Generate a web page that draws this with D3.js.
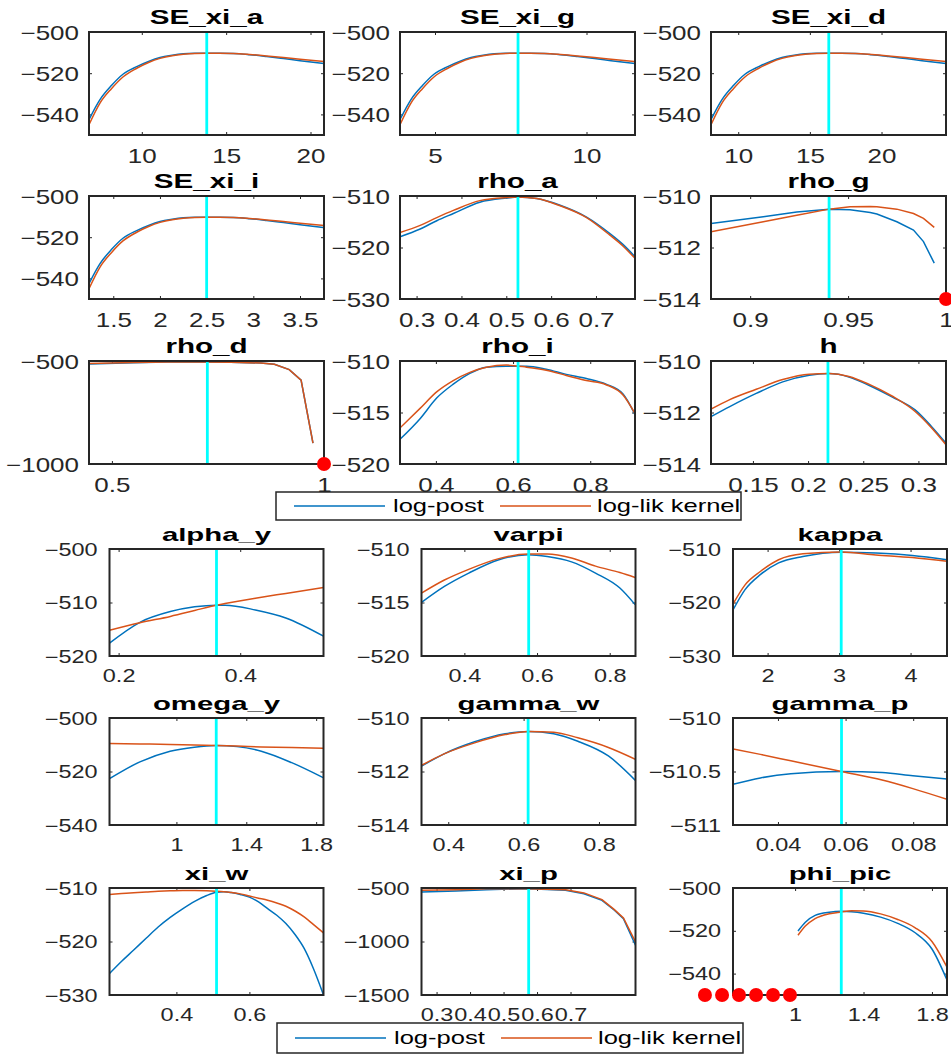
<!DOCTYPE html>
<html><head><meta charset="utf-8">
<script src="https://cdn.jsdelivr.net/npm/d3@7"></script>
<style>
body{margin:0;background:#fff}
svg{display:block}
text{font-family:"Liberation Sans",Arial,Helvetica,sans-serif}
</style></head><body>
<svg id="chart" width="951" height="1054"></svg>
<script>
const titles = ["SE_xi_a","SE_xi_g","SE_xi_d","SE_xi_i","rho_a","rho_g","rho_d","rho_i","h",
                "alpha_y","varpi","kappa","omega_y","gamma_w","gamma_p","xi_w","xi_p","phi_pic"];
const legendLabels = ["log-post","log-lik kernel"];

const seX_a = [6.87,7.52,8.2,8.9,9.7,10.4,11.08,11.8,12.46,13.15,13.85,14.6,15.43,16.4,17.4,18.4,19.38,20.8];
const seX_g = [3.845,4.207,4.586,4.975,5.421,5.81,6.189,6.589,6.957,7.341,7.731,8.148,8.61,9.15,9.707,10.264,10.81,11.6];
const seX_d = [8.1,8.866,9.666,10.489,11.432,12.256,13.056,13.904,14.681,15.493,16.318,17.2,18.178,19.319,20.497,21.674,22.829,24.5];
const seX_i = [1.24,1.358,1.48,1.607,1.751,1.878,2.001,2.131,2.25,2.375,2.501,2.637,2.787,2.962,3.143,3.323,3.501,3.757];
const sePost = [-542.5,-532.8,-526,-520.4,-516.8,-514.3,-512.4,-511.3,-510.6,-510.35,-510.3,-510.3,-510.4,-511.0,-511.9,-512.9,-513.9,-515.3];
const seLik  = [-545,-534.5,-527.5,-521.7,-517.6,-514.8,-512.8,-511.5,-510.8,-510.4,-510.3,-510.3,-510.4,-510.9,-511.6,-512.4,-513.2,-514.3];

const xValues = [
  seX_a, seX_g, seX_d, seX_i,
  [0.263,0.308,0.345,0.382,0.441,0.501,0.526,0.568,0.62,0.679,0.731,0.76,0.787],
  [0.88,0.9067,0.9238,0.9403,0.951,0.9613,0.9647,0.9749,0.9834,0.9885,0.994],
  [0.446,0.551,0.63,0.709,0.78,0.851,0.883,0.918,0.946,0.974],
  [0.307,0.359,0.402,0.445,0.488,0.531,0.583,0.635,0.686,0.738,0.79,0.841,0.885,0.916],
  [0.112,0.129,0.153,0.177,0.201,0.219,0.237,0.255,0.276,0.297,0.312,0.325],
  [0.185,0.235,0.285,0.325,0.361,0.375,0.425,0.475,0.537],
  [0.283,0.345,0.412,0.495,0.575,0.628,0.695,0.761,0.828,0.87],
  [1.516,1.685,1.898,2.154,2.494,3.03,3.515,4.025,4.51],
  [0.617,0.791,0.964,1.103,1.228,1.347,1.486,1.66,1.84],
  [0.329,0.389,0.47,0.551,0.613,0.68,0.744,0.825,0.898],
  [0.0267,0.0348,0.0438,0.0588,0.0708,0.0799,0.09],
  [0.2167,0.25,0.283,0.317,0.35,0.383,0.417,0.45,0.483,0.51,0.53,0.55,0.575,0.6,0.625,0.65,0.675,0.7,0.725,0.75,0.775,0.803],
  [0.255,0.3586,0.449,0.575,0.685,0.74,0.794,0.831,0.858,0.894],
  [1.017,1.06,1.117,1.2,1.27,1.33,1.4,1.5,1.6,1.7,1.8,1.888]
];
const logPost = [
  sePost, sePost, sePost, sePost,
  [-517.9,-516.4,-514.8,-513.4,-511.2,-510.4,-510.2,-510.5,-511.8,-514.1,-517.3,-519.4,-521.8],
  [-511.07,-510.81,-510.62,-510.51,-510.53,-510.64,-510.7,-511.0,-511.32,-511.77,-512.61],
  [-515,-508,-505,-505,-506,-510,-516,-542,-593,-899],
  [-517.6,-515.6,-513.6,-512.25,-511.2,-510.6,-510.5,-510.5,-510.8,-511.3,-511.7,-512.25,-513.2,-515.2],
  [-512.16,-511.77,-511.26,-510.81,-510.55,-510.49,-510.62,-510.94,-511.39,-511.9,-512.55,-513.19],
  [-517.6,-513.7,-511.7,-510.8,-510.5,-510.5,-511.4,-512.9,-516.3],
  [-514.97,-513.5,-512.25,-511.0,-510.53,-510.7,-511.2,-512.25,-513.65,-515.2],
  [-521.4,-517.6,-514.8,-512.6,-511.4,-510.6,-510.75,-511.2,-512],
  [-522.7,-516.4,-512.4,-510.9,-510.3,-510.7,-512.4,-516.7,-522.3],
  [-511.8,-511.34,-510.89,-510.59,-510.5,-510.59,-510.87,-511.42,-512.35],
  [-510.62,-510.56,-510.52,-510.5,-510.51,-510.54,-510.57],
  [-526,-523.7,-521.6,-519.4,-517.3,-515.5,-513.9,-512.5,-511.4,-510.8,-510.7,-510.85,-511.2,-511.7,-512.6,-513.85,-515.1,-516.65,-518.7,-521.3,-525,-530],
  [-537,-528,-515.5,-506,-522,-553,-615,-708,-786,-1034],
  [-520.1,-516,-512.8,-511.3,-510.9,-511.1,-511.8,-513.6,-516.5,-520.8,-528.5,-543]
];
const logLik = [
  seLik, seLik, seLik, seLik,
  [-517.1,-515.7,-514.2,-512.8,-510.9,-510.3,-510.2,-510.5,-511.9,-514.2,-517.6,-519.7,-522.1],
  [-511.39,-511.0,-510.75,-510.51,-510.42,-510.41,-510.42,-510.51,-510.68,-510.87,-511.22],
  [-512,-507,-505,-505,-506,-510,-516,-542,-593,-899],
  [-516.5,-514.6,-513.0,-511.9,-511.1,-510.6,-510.4,-510.6,-510.9,-511.4,-511.9,-512.3,-513.3,-515.1],
  [-511.87,-511.5,-511.1,-510.72,-510.51,-510.49,-510.6,-510.9,-511.36,-511.96,-512.6,-513.25],
  [-515.2,-513.8,-512.6,-511.5,-510.5,-510.2,-509.2,-508.3,-507.2],
  [-514.1,-512.9,-511.9,-510.9,-510.47,-510.47,-510.84,-511.6,-512.2,-512.66],
  [-520.3,-516.7,-514.2,-512,-510.9,-510.56,-511.1,-511.6,-512.3],
  [-509.5,-509.7,-509.9,-510.1,-510.3,-510.5,-510.8,-511.0,-511.3],
  [-511.77,-511.34,-510.93,-510.62,-510.5,-510.53,-510.74,-511.1,-511.55],
  [-510.29,-510.34,-510.4,-510.5,-510.58,-510.66,-510.76],
  [-511.2,-511.05,-510.9,-510.75,-510.6,-510.5,-510.45,-510.45,-510.5,-510.6,-510.7,-510.85,-511.1,-511.5,-511.9,-512.3,-512.8,-513.4,-514.3,-515.4,-516.8,-518.4],
  [-522,-515.5,-506,-506,-515.5,-546,-609,-702,-780,-1003],
  [-522.1,-517.8,-514.3,-512.0,-511.2,-510.6,-510.7,-512.1,-514.7,-518.5,-525,-537]
];
const modeValues = [13.85,7.74,16.32,2.5,0.526,0.9403,0.725,0.613,0.218,
                    0.361,0.577,3.03,1.228,0.612,0.0588,0.51,0.575,1.27];
const xDomains = [[6.87,20.8],[3.845,11.6],[8.1,24.5],[1.24,3.757],[0.263,0.787],[0.88,1.0],[0.446,1.0],[0.307,0.916],[0.112,0.325],
                  [0.185,0.537],[0.282,0.871],[1.516,4.51],[0.617,1.842],[0.329,0.897],[0.0267,0.09],[0.2167,0.803],[0.255,0.894],[0.637,1.888]];
const yDomains = [[-550,-500],[-550,-500],[-550,-500],[-550,-500],[-530,-510],[-514,-510],[-1000,-500],[-520,-510],[-514,-510],
                  [-520,-500],[-520,-510],[-530,-510],[-540,-500],[-514,-510],[-511,-510],[-530,-510],[-1500,-500],[-550,-500]];
const xTickValues = [[10,15,20],[5,10],[10,15,20],[1.5,2,2.5,3,3.5],[0.3,0.4,0.5,0.6,0.7],[0.9,0.95,1],[0.5,1],[0.4,0.6,0.8],[0.15,0.2,0.25,0.3],
                     [0.2,0.4],[0.4,0.6,0.8],[2,3,4],[1,1.4,1.8],[0.4,0.6,0.8],[0.04,0.06,0.08],[0.4,0.6],[0.3,0.4,0.5,0.6,0.7],[1,1.4,1.8]];
const yTickValues = [[-540,-520,-500],[-540,-520,-500],[-540,-520,-500],[-540,-520,-500],[-530,-520,-510],[-514,-512,-510],[-1000,-500],[-520,-515,-510],[-514,-512,-510],
                     [-520,-510,-500],[-520,-515,-510],[-530,-520,-510],[-540,-520,-500],[-514,-512,-510],[-511,-510.5,-510],[-530,-520,-510],[-1500,-1000,-500],[-540,-520,-500]];
// grid points where the posterior was not finite (plotted at the bottom)
const infX = [[],[],[],[],[],[1.0],[1.0],[],[],[],[],[],[],[],[],[],[],[0.473,0.573,0.672,0.772,0.871,0.97]];
const straightPanels = ["rho_g","rho_d","xi_p"];

const svg = d3.select("#chart");
const defs = svg.append("defs");
const C_BLUE = "#0072BD", C_ORANGE = "#D95319", C_AX = "#262626";

const sections = [
  {cols:[89,400,711], w:235, rows:[32,196,361], h:103, tickF:20, tickSx:1.3, yPad:10, xBase:28, titleF:20, titleSx:1.48},
  {cols:[109.5,421.5,733], w:214, rows:[549,718,888], h:107, tickF:17.5, tickSx:1.34, yPad:12, xBase:26, titleF:18, titleSx:1.63}
];
const fmt = d => String(d).replace("-", "\u2212");

titles.forEach((title, i) => {
  const sec = sections[i < 9 ? 0 : 1];
  const k = i % 9;
  const x0 = sec.cols[k % 3], y0 = sec.rows[Math.floor(k / 3)];
  const w = sec.w, h = sec.h;
  const x = d3.scaleLinear().domain(xDomains[i]).range([0, w]);
  const y = d3.scaleLinear().domain(yDomains[i]).range([h, 0]);
  const g = svg.append("g").attr("transform", `translate(${x0},${y0})`);
  const cid = "clip" + i;
  defs.append("clipPath").attr("id", cid).append("rect").attr("width", w).attr("height", h);

  const styleAxis = sel => {
    sel.select(".domain").remove();
    sel.selectAll(".tick line").attr("stroke", C_AX).attr("stroke-width", 1);
  };
  const ax = g.append("g").attr("transform", `translate(0,${h})`)
    .call(d3.axisBottom(x).tickValues(xTickValues[i]).tickSize(-3).tickFormat(fmt));
  styleAxis(ax);
  ax.selectAll("text").attr("fill", C_AX).attr("font-size", sec.tickF).attr("y", sec.xBase).attr("dy", 0)
    .attr("transform", `scale(${sec.tickSx},1)`).attr("font-family", null);
  const ay = g.append("g")
    .call(d3.axisLeft(y).tickValues(yTickValues[i]).tickSize(-3).tickFormat(fmt));
  styleAxis(ay);
  ay.selectAll("text").attr("fill", C_AX).attr("font-size", sec.tickF).attr("x", -sec.yPad / sec.tickSx)
    .attr("dy", "0.35em").attr("transform", `scale(${sec.tickSx},1)`).attr("font-family", null);
  const at = g.append("g").call(d3.axisTop(x).tickValues(xTickValues[i]).tickSize(-3).tickFormat(""));
  styleAxis(at);
  const ar = g.append("g").attr("transform", `translate(${w},0)`)
    .call(d3.axisRight(y).tickValues(yTickValues[i]).tickSize(-3).tickFormat(""));
  styleAxis(ar);

  const pts = (ys) => xValues[i].map((xv, j) => [xv, ys[j]]);
  const line = d3.line().x(d => x(d[0])).y(d => y(d[1]))
    .curve(straightPanels.includes(title) ? d3.curveLinear : d3.curveMonotoneX);
  const plot = g.append("g").attr("clip-path", `url(#${cid})`);
  plot.append("path").attr("d", line(pts(logPost[i]))).attr("fill", "none")
    .attr("stroke", C_BLUE).attr("stroke-width", 1.5);
  plot.append("path").attr("d", line(pts(logLik[i]))).attr("fill", "none")
    .attr("stroke", C_ORANGE).attr("stroke-width", 1.5);
  plot.append("line").attr("x1", x(modeValues[i])).attr("x2", x(modeValues[i]))
    .attr("y1", 0).attr("y2", h).attr("stroke", "#00FFFF").attr("stroke-width", 2.8);

  g.append("rect").attr("width", w).attr("height", h).attr("fill", "none")
    .attr("stroke", C_AX).attr("stroke-width", 2);

  g.append("g").selectAll("circle").data(infX[i]).join("circle")
    .attr("cx", d => x(d)).attr("cy", y(yDomains[i][0])).attr("r", 7).attr("fill", "#FF0000");

  g.append("text").attr("transform", `translate(${w / 2},-8) scale(${sec.titleSx},1)`)
    .attr("text-anchor", "middle").attr("font-weight", "bold").attr("font-size", sec.titleF)
    .attr("fill", "#000").text(title);
});

[{x:276, y:492, w:465, h:28}, {x:277, y:1023, w:466, h:30}].forEach(L => {
  const lg = svg.append("g").attr("transform", `translate(${L.x},${L.y})`);
  lg.append("rect").attr("width", L.w).attr("height", L.h).attr("fill", "#fff")
    .attr("stroke", C_AX).attr("stroke-width", 1.5);
  const cy = L.h / 2;
  const items = [{c:C_BLUE, lx:18, tx:117}, {c:C_ORANGE, lx:224, tx:321}];
  items.forEach((it, j) => {
    lg.append("line").attr("x1", it.lx).attr("x2", it.lx + 91).attr("y1", cy).attr("y2", cy)
      .attr("stroke", it.c).attr("stroke-width", 1.5);
    lg.append("text").attr("transform", `translate(${it.tx},${cy}) scale(1.38,1)`)
      .attr("dominant-baseline", "central").attr("font-size", 18.5).attr("fill", "#000")
      .text(legendLabels[j]);
  });
});
</script></body></html>
